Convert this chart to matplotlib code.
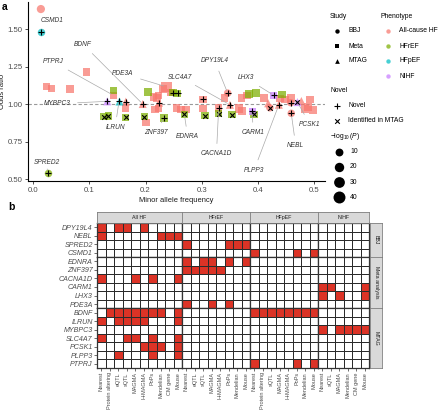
import matplotlib.pyplot as plt
from matplotlib.colors import ListedColormap
import numpy as np

# ---------------- panel a: lead variants ----------------
maf = [0.014, 0.014, 0.024, 0.033, 0.066, 0.095, 0.026,
       0.143, 0.143, 0.132, 0.153, 0.165, 0.165, 0.126, 0.134, 0.165,
       0.195, 0.198, 0.201, 0.204, 0.214, 0.220, 0.223, 0.231, 0.237,
       0.224, 0.217, 0.223, 0.245, 0.249, 0.257, 0.233, 0.255, 0.263,
       0.272, 0.269, 0.302, 0.302, 0.306,
       0.330, 0.330, 0.340, 0.346, 0.350, 0.354, 0.366, 0.371, 0.371,
       0.380, 0.384, 0.397, 0.390, 0.393, 0.411, 0.418, 0.421, 0.428,
       0.443, 0.437, 0.439, 0.448, 0.459, 0.458, 0.459, 0.470, 0.477,
       0.483, 0.489, 0.498, 0.492]
odds = [1.633, 1.478, 1.115, 1.105, 1.100, 1.215, 0.542,
        1.091, 1.058, 1.018, 1.022, 1.016, 0.970, 0.915, 0.920, 0.911,
        1.000, 0.915, 0.876, 1.080, 1.047, 1.040, 1.058, 1.100, 1.115,
        1.009, 0.962, 0.969, 1.076, 1.076, 1.071, 0.907, 0.973, 0.962,
        0.964, 0.931, 1.031, 0.971, 0.922,
        0.973, 0.936, 1.040, 1.073, 0.995, 0.929, 0.971, 0.955, 1.040,
        1.058, 1.065, 1.076, 0.951, 0.931, 1.040, 1.005, 0.975, 1.058,
        1.062, 0.995, 1.038, 1.031, 1.042, 1.009, 0.938, 1.013, 1.020,
        0.969, 0.982, 0.962, 1.031]
study = ['BBJ', 'BBJ', 'Meta', 'Meta', 'Meta', 'Meta', 'BBJ',
         'Meta', 'Meta', 'MTAG', 'MTAG', 'MTAG', 'Meta', 'Meta', 'Meta', 'Meta',
         'MTAG', 'Meta', 'Meta', 'Meta', 'Meta', 'Meta', 'Meta', 'Meta', 'Meta',
         'MTAG', 'Meta', 'Meta', 'Meta', 'Meta', 'Meta', 'Meta', 'Meta', 'Meta',
         'Meta', 'Meta', 'Meta', 'Meta', 'Meta',
         'Meta', 'Meta', 'Meta', 'BBJ', 'MTAG', 'Meta', 'Meta', 'Meta', 'Meta',
         'Meta', 'Meta', 'Meta', 'Meta', 'Meta', 'Meta', 'MTAG', 'BBJ', 'Meta',
         'Meta', 'MTAG', 'Meta', 'Meta', 'Meta', 'BBJ', 'BBJ', 'MTAG', 'MTAG',
         'Meta', 'Meta', 'Meta', 'Meta']
pheno = ['All-cause HF', 'HFpEF', 'All-cause HF', 'All-cause HF', 'All-cause HF', 'All-cause HF', 'HFrEF',
         'HFrEF', 'All-cause HF', 'NIHF', 'HFpEF', 'All-cause HF', 'All-cause HF', 'HFrEF', 'HFrEF', 'HFrEF',
         'All-cause HF', 'HFrEF', 'All-cause HF', 'HFrEF', 'All-cause HF', 'All-cause HF', 'All-cause HF',
         'All-cause HF', 'All-cause HF',
         'All-cause HF', 'All-cause HF', 'All-cause HF', 'All-cause HF', 'HFrEF', 'HFrEF', 'HFrEF',
         'All-cause HF', 'All-cause HF', 'All-cause HF', 'HFrEF', 'All-cause HF', 'All-cause HF', 'HFrEF',
         'All-cause HF', 'HFrEF', 'All-cause HF', 'All-cause HF', 'All-cause HF', 'HFrEF', 'All-cause HF',
         'All-cause HF', 'All-cause HF', 'All-cause HF', 'HFrEF', 'HFrEF', 'NIHF', 'HFrEF', 'All-cause HF',
         'All-cause HF', 'All-cause HF', 'NIHF', 'HFrEF', 'All-cause HF', 'All-cause HF', 'All-cause HF',
         'All-cause HF', 'All-cause HF', 'All-cause HF', 'NIHF', 'All-cause HF',
         'All-cause HF', 'All-cause HF', 'All-cause HF', 'All-cause HF']
novel = ['', '+', '', '', '', '', '+',
         '', '', '+', '+', '+', '', 'x', 'x', 'x',
         '+', 'x', '', '', '', '', '', '', '',
         '+', '', '', '', '+', '+', '+', '', '',
         '', 'x', '+', '', 'x',
         '+', 'x', '', '+', '+', 'x', '', '', '',
         '', '', '', '+', 'x', '', '', 'x', '+',
         '', '+', '', '', '', '+', '+', 'x', '',
         '', '', '', '']
logp = [12, 8, 8, 8, 14, 9, 8,
        10, 9, 8, 8, 8, 8, 8, 8, 8,
        8, 8, 8, 9, 9, 9, 9, 14, 30,
        8, 9, 9, 10, 8, 8, 8, 9, 9,
        9, 8, 9, 8, 9,
        8, 9, 9, 8, 8, 9, 14, 14, 9,
        9, 11, 12, 8, 9, 9, 8, 8, 8,
        9, 8, 9, 9, 12, 8, 8, 8, 8,
        12, 12, 12, 9]

# gene -> index of its point, and where ggrepel put the label
gene_pt = {'CSMD1': 1, 'PTPRJ': 8, 'BDNF': 16, 'PDE3A': 24, 'SLC4A7': 43,
           'DPY19L4': 42, 'LHX3': 56, 'MYBPC3': 9, 'ILRUN': 10, 'ZNF397': 31,
           'EDNRA': 35, 'CARM1': 51, 'CACNA1D': 39, 'NEBL': 63, 'PCSK1': 64,
           'PLPP3': 58, 'SPRED2': 6}
gene_txt = {'CSMD1': (0.034, 1.555), 'PTPRJ': (0.036, 1.282), 'BDNF': (0.089, 1.398),
            'PDE3A': (0.160, 1.202), 'SLC4A7': (0.262, 1.180), 'DPY19L4': (0.323, 1.287),
            'LHX3': (0.378, 1.175), 'MYBPC3': (0.043, 1.002), 'ILRUN': (0.146, 0.845),
            'ZNF397': (0.218, 0.809), 'EDNRA': (0.275, 0.782), 'CARM1': (0.391, 0.809),
            'CACNA1D': (0.326, 0.667), 'NEBL': (0.467, 0.722), 'PCSK1': (0.492, 0.865),
            'PLPP3': (0.393, 0.560), 'SPRED2': (0.024, 0.609)}

pheno_col = {'All-cause HF': '#F8766D', 'HFrEF': '#7CAE00', 'HFpEF': '#00BFC4', 'NIHF': '#C77CFF'}
study_mk = {'BBJ': 'o', 'Meta': 's', 'MTAG': '^'}
mk_scale = {'o': 1.0, 's': 0.95, '^': 1.15}


def size_of(p):
    return 18 + 1.4 * p


# ---------------- panel b: gene prioritisation ----------------
genes = ['DPY19L4', 'NEBL', 'SPRED2', 'CSMD1', 'EDNRA', 'ZNF397', 'CACNA1D', 'CARM1',
         'LHX3', 'PDE3A', 'BDNF', 'ILRUN', 'MYBPC3', 'SLC4A7', 'PCSK1', 'PLPP3', 'PTPRJ']
row_groups = ['BBJ', 'Meta analysis', 'MTAG']
row_sizes = [4, 6, 7]
col_groups = ['All HF', 'HFrEF', 'HFpEF', 'NIHF']
criteria = {
    'All HF': ['Nearest', 'Protein altering', 'eQTL', 'sQTL', 'MAGMA', 'H-MAGMA', 'PoPs',
               'Mendelian', 'CM gene', 'Mouse'],
    'HFrEF': ['Nearest', 'eQTL', 'sQTL', 'MAGMA', 'H-MAGMA', 'PoPs', 'Mendelian', 'Mouse'],
    'HFpEF': ['Nearest', 'Protein altering', 'sQTL', 'MAGMA', 'H-MAGMA', 'PoPs', 'Mendelian', 'Mouse'],
    'NIHF': ['Nearest', 'sQTL', 'MAGMA', 'Mendelian', 'CM gene', 'Mouse'],
}
hits = {
    'All HF': {'DPY19L4': ['Nearest', 'eQTL', 'sQTL', 'H-MAGMA'],
               'NEBL': ['Nearest', 'Mendelian', 'CM gene', 'Mouse'],
               'CACNA1D': ['Nearest', 'MAGMA', 'PoPs', 'Mouse'],
               'BDNF': ['Protein altering', 'eQTL', 'sQTL', 'MAGMA', 'H-MAGMA', 'PoPs', 'Mendelian', 'Mouse'],
               'ILRUN': ['Nearest', 'eQTL', 'sQTL', 'MAGMA', 'H-MAGMA', 'Mouse'],
               'SLC4A7': ['Nearest', 'sQTL', 'MAGMA', 'PoPs', 'Mouse'],
               'PCSK1': ['H-MAGMA', 'PoPs', 'Mendelian', 'Mouse'],
               'PLPP3': ['eQTL', 'PoPs', 'Mouse']},
    'HFrEF': {'SPRED2': ['Nearest', 'PoPs', 'Mendelian', 'Mouse'],
              'EDNRA': ['Nearest', 'sQTL', 'MAGMA', 'PoPs', 'Mouse'],
              'ZNF397': ['Nearest', 'eQTL', 'sQTL', 'MAGMA', 'H-MAGMA'],
              'PDE3A': ['Nearest', 'MAGMA', 'PoPs']},
    'HFpEF': {'CSMD1': ['Nearest', 'PoPs', 'Mouse'],
              'BDNF': ['Nearest', 'Protein altering', 'sQTL', 'MAGMA', 'H-MAGMA', 'PoPs', 'Mendelian', 'Mouse'],
              'PTPRJ': ['Nearest', 'PoPs', 'Mouse']},
    'NIHF': {'CARM1': ['Nearest', 'sQTL', 'Mouse'],
             'LHX3': ['Nearest', 'MAGMA', 'Mouse'],
             'MYBPC3': ['Nearest', 'MAGMA', 'Mendelian', 'CM gene', 'Mouse']},
}

W, H = 440, 412
plt.rcParams['font.family'] = ['Liberation Sans', 'DejaVu Sans']
plt.rcParams['mathtext.fontset'] = 'custom'
plt.rcParams['mathtext.rm'] = 'Liberation Sans'
plt.rcParams['mathtext.it'] = 'Liberation Sans:italic'
fig = plt.figure(figsize=(W / 100, H / 100), dpi=100)
grey = '#4D4D4D'


def px_axes(x0, y0, x1, y1):
    return fig.add_axes([x0 / W, 1 - y1 / H, (x1 - x0) / W, (y1 - y0) / H])


# ---- scatter ----
ax = px_axes(28, 2, 325, 181)
ax.axhline(1.0, color='#999999', ls=(0, (3, 2)), lw=0.8, zorder=1)
for ph in ['All-cause HF', 'HFrEF', 'HFpEF', 'NIHF']:
    for st in ['BBJ', 'Meta', 'MTAG']:
        idx = [i for i in range(len(maf)) if pheno[i] == ph and study[i] == st]
        if not idx:
            continue
        m = study_mk[st]
        ax.scatter([maf[i] for i in idx], [odds[i] for i in idx],
                   s=[size_of(logp[i]) * mk_scale[m] for i in idx],
                   marker=m, color=pheno_col[ph], alpha=0.72, lw=0, zorder=2)
for sym, mk, sz in [('+', '+', 18), ('x', 'x', 11)]:
    idx = [i for i in range(len(maf)) if novel[i] == sym]
    ax.scatter([maf[i] for i in idx], [odds[i] for i in idx], marker=mk,
               s=sz, color='black', lw=0.8, zorder=3)

for g, i in gene_pt.items():
    tx, ty = gene_txt[g]
    ax.annotate(g, xy=(maf[i], odds[i]), xytext=(tx, ty), fontsize=4.7, style='italic',
                color='#333333', ha='center', va='center', zorder=4,
                arrowprops=dict(arrowstyle='-', color='#AAAAAA', lw=0.5,
                                shrinkA=3, shrinkB=2))

ax.set_xlim(-0.0089, 0.519)
ax.set_ylim(0.487, 1.68)
ax.set_xticks([0.0, 0.1, 0.2, 0.3, 0.4, 0.5])
ax.set_xticklabels(['0.0', '0.1', '0.2', '0.3', '0.4', '0.5'])
ax.set_yticks([0.5, 0.75, 1.0, 1.25, 1.5])
ax.set_yticklabels(['0.50', '0.75', '1.00', '1.25', '1.50'])
ax.tick_params(labelsize=5.6, colors='#333333', labelcolor=grey, length=2.5, width=0.6, pad=1.5)
for s in ['top', 'right']:
    ax.spines[s].set_visible(False)
for s in ['left', 'bottom']:
    ax.spines[s].set_linewidth(0.8)
ax.set_xlabel('Minor allele frequency', fontsize=5.4, color='#1A1A1A')
ax.set_ylabel('Odds ratio', fontsize=5.4, color='#1A1A1A')
ax.xaxis.set_label_coords(0.5, -0.088)
ax.yaxis.set_label_coords(-0.073, 0.5)

# ---- legend ----
lg = px_axes(325, 0, 440, 205)
lg.set_xlim(325, 440)
lg.set_ylim(205, 0)
lg.axis('off')
ts = 4.9
lg.text(330, 16, 'Study', fontsize=ts, va='center')
for st, y in zip(['BBJ', 'Meta', 'MTAG'], [30.7, 46, 61]):
    lg.scatter(337, y, marker=study_mk[st], s=10 * mk_scale[study_mk[st]], color='black', lw=0)
    lg.text(348, y, st, fontsize=ts, va='center')
lg.text(380, 16, 'Phenotype', fontsize=ts, va='center')
for ph, y in zip(['All-cause HF', 'HFrEF', 'HFpEF', 'NIHF'], [30.7, 46, 61, 76]):
    lg.scatter(388, y, marker='o', s=10, color=pheno_col[ph], alpha=0.72, lw=0)
    lg.text(399, y, ph, fontsize=ts, va='center')
lg.text(330, 90.7, 'Novel', fontsize=ts, va='center')
lg.scatter(337, 105.7, marker='+', s=22, color='black', lw=0.8)
lg.text(348, 105.7, 'Novel', fontsize=ts, va='center')
lg.scatter(337, 120.7, marker='x', s=11, color='black', lw=0.8)
lg.text(348, 120.7, 'Identified in MTAG', fontsize=ts, va='center')
lg.text(330, 136.5, r'$-\log_{10}(P)$', fontsize=ts, va='center')
for p, y in zip([10, 20, 30, 40], [151.7, 166.7, 182, 197.3]):
    lg.scatter(338.5, y, marker='o', s=size_of(p), color='black', lw=0)
    lg.text(350, y, str(p), fontsize=ts, va='center')

fig.text(2 / W, 1 - 7 / H, 'a', fontsize=7.5, fontweight='bold', va='center')
fig.text(8 / W, 1 - 207 / H, 'b', fontsize=7.5, fontweight='bold', va='center')

# ---- heatmap ----
red = '#DC3326'
cmap = ListedColormap(['white', red])
col_edges = [97]
for cg in col_groups:
    col_edges.append(col_edges[-1] + 8.5 * len(criteria[cg]))
row_h = 145 / len(genes)
row_edges = [223]
for n in row_sizes:
    row_edges.append(row_edges[-1] + row_h * n)

start = 0
for r, (rg, n) in enumerate(zip(row_groups, row_sizes)):
    rgenes = genes[start:start + n]
    start += n
    for c, cg in enumerate(col_groups):
        crit = criteria[cg]
        mat = np.zeros((n, len(crit)))
        for gi, g in enumerate(rgenes):
            for cr in hits[cg].get(g, []):
                mat[gi, crit.index(cr)] = 1
        hx = px_axes(col_edges[c], row_edges[r], col_edges[c + 1], row_edges[r + 1])
        hx.pcolormesh(mat, cmap=cmap, vmin=0, vmax=1, edgecolors='#2B2B2B', linewidth=0.6)
        hx.set_xlim(0, len(crit))
        hx.set_ylim(n, 0)
        for s in hx.spines.values():
            s.set_color('#333333')
            s.set_linewidth(0.9)
        hx.set_xticks(np.arange(len(crit)) + 0.5)
        hx.set_yticks(np.arange(n) + 0.5)
        hx.tick_params(length=2, width=0.5, colors='#333333', labelcolor=grey, pad=1)
        if c == 0:
            hx.set_yticklabels(rgenes, fontsize=5.1, style='italic')
        else:
            hx.set_yticklabels([])
            hx.tick_params(axis='y', length=0)
        if r == len(row_groups) - 1:
            hx.set_xticklabels(crit, rotation=90, fontsize=4.0)
        else:
            hx.set_xticklabels([])
            hx.tick_params(axis='x', length=0)
        if r == 0:
            sx = px_axes(col_edges[c], 212, col_edges[c + 1], 223)
            sx.set_facecolor('#D9D9D9')
            sx.set_xticks([])
            sx.set_yticks([])
            for s in sx.spines.values():
                s.set_color('#7F7F7F')
                s.set_linewidth(0.6)
            sx.text(0.5, 0.5, cg, fontsize=3.8, color='#1A1A1A', ha='center', va='center',
                    transform=sx.transAxes)
    sy = px_axes(370, row_edges[r], 382, row_edges[r + 1])
    sy.set_facecolor('#D9D9D9')
    sy.set_xticks([])
    sy.set_yticks([])
    for s in sy.spines.values():
        s.set_color('#7F7F7F')
        s.set_linewidth(0.6)
    sy.text(0.5, 0.5, rg, fontsize=3.8, color='#1A1A1A', ha='center', va='center',
            rotation=-90, transform=sy.transAxes)

fig.savefig('out.png', dpi=100)
